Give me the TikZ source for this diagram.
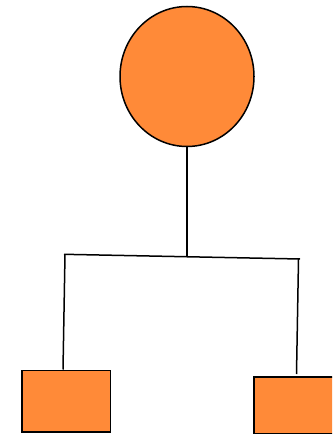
\documentclass[tikz,border=0pt]{standalone}
\usetikzlibrary{shapes.geometric}
\definecolor{orangefill}{RGB}{255,138,56}
\tikzset{
  member/.style={draw, line width=1.5pt, fill=orangefill, inner sep=0pt},
  link/.style={line width=1.5pt}
}
\begin{document}
\begin{tikzpicture}[x=1pt,y=-1pt]
\useasboundingbox (0,0) rectangle (332,435);
\clip (0,0) rectangle (332,435);

\node[member, ellipse, minimum width=134, minimum height=140] (root) at (187,76.5) {};

\node[member, rectangle, minimum width=88.5, minimum height=61.5] (leftbox) at (66,401) {};
\node[member, rectangle, minimum width=90, minimum height=56.5] (rightbox) at (299,405) {};

\coordinate (barL) at (64,254.3);
\coordinate (barM) at (187,256.5);
\coordinate (barR) at (300,259);
\coordinate (dropR) at (296.5,374);

\draw[link] (root.south) -- (barM);
\draw[link] (barL) -- (barR);
\draw[link] ([xshift=1pt]barL) -- ([xshift=-3pt]leftbox.north);
\draw[link] ([xshift=-1.5pt]barR) -- (dropR);
\end{tikzpicture}
\end{document}
